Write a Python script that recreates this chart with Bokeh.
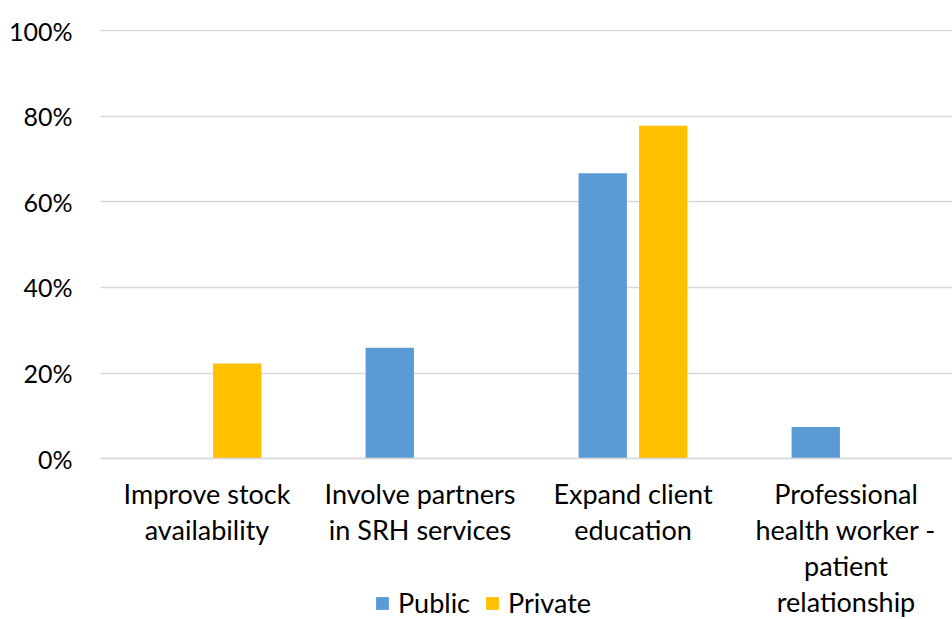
from bokeh.plotting import figure
from bokeh.models import ColumnDataSource, FactorRange, Range1d, Legend, LegendItem, NumeralTickFormatter, FixedTicker
from bokeh.transform import dodge
from bokeh.embed import file_html
from bokeh.resources import INLINE

categories = ["Improve stock\navailability", "Involve partners\nin SRH services",
              "Expand client\neducation", "Professional\nhealth worker -\npatient\nrelationship"]
public = [0.0, 0.259, 0.667, 0.074]
private = [0.222, 0.0, 0.778, 0.0]
y_ticks = [0, 0.2, 0.4, 0.6, 0.8, 1.0]

src = ColumnDataSource(dict(cat=categories, public=public, private=private))

FONT = "Lato"
p = figure(width=952, height=619, x_range=FactorRange(*categories), y_range=Range1d(-0.3762, 1.003),
           output_backend="svg", toolbar_location=None,
           min_border_left=100, min_border_right=0, min_border_top=29, min_border_bottom=0)
p.outline_line_color = None

r1 = p.vbar(x=dodge("cat", -0.142, range=p.x_range), top="public", width=0.227, source=src,
            fill_color="#5B9BD5", line_color=None)
r2 = p.vbar(x=dodge("cat", 0.142, range=p.x_range), top="private", width=0.227, source=src,
            fill_color="#FFC000", line_color=None)

p.yaxis.ticker = FixedTicker(ticks=y_ticks)
p.yaxis.formatter = NumeralTickFormatter(format="0%")
p.yaxis.axis_line_color = None
p.yaxis.major_tick_line_color = None
p.yaxis.minor_tick_line_color = None
p.yaxis.major_label_text_font = FONT
p.yaxis.major_label_text_font_size = "25px"
p.yaxis.major_label_text_color = "#000000"
p.yaxis.major_label_standoff = 22

p.xaxis.fixed_location = 0
p.xaxis.axis_line_color = "#d9d9d9"
p.xaxis.axis_line_width = 1.5
p.xaxis.major_tick_line_color = None
p.xaxis.minor_tick_line_color = None
p.xaxis.major_label_text_font = FONT
p.xaxis.major_label_text_font_size = "27px"
p.xaxis.major_label_text_color = "#000000"
p.xaxis.major_label_text_line_height = 1.1
p.xaxis.major_label_standoff = 12
p.xaxis.major_label_orientation = "horizontal"

p.xgrid.grid_line_color = None
p.ygrid.grid_line_color = "#d9d9d9"
p.ygrid.grid_line_width = 1.5

legend = Legend(items=[LegendItem(label="Public", renderers=[r1]),
                       LegendItem(label="Private", renderers=[r2])],
                orientation="horizontal", location=(274, 0),
                label_text_font=FONT, label_text_font_size="27px", label_text_color="#000000",
                glyph_width=16, glyph_height=16, spacing=14, label_standoff=8,
                padding=0, margin=0, border_line_color=None, background_fill_alpha=0)
p.add_layout(legend, "center")

open("out.html", "w").write(file_html(p, INLINE))
